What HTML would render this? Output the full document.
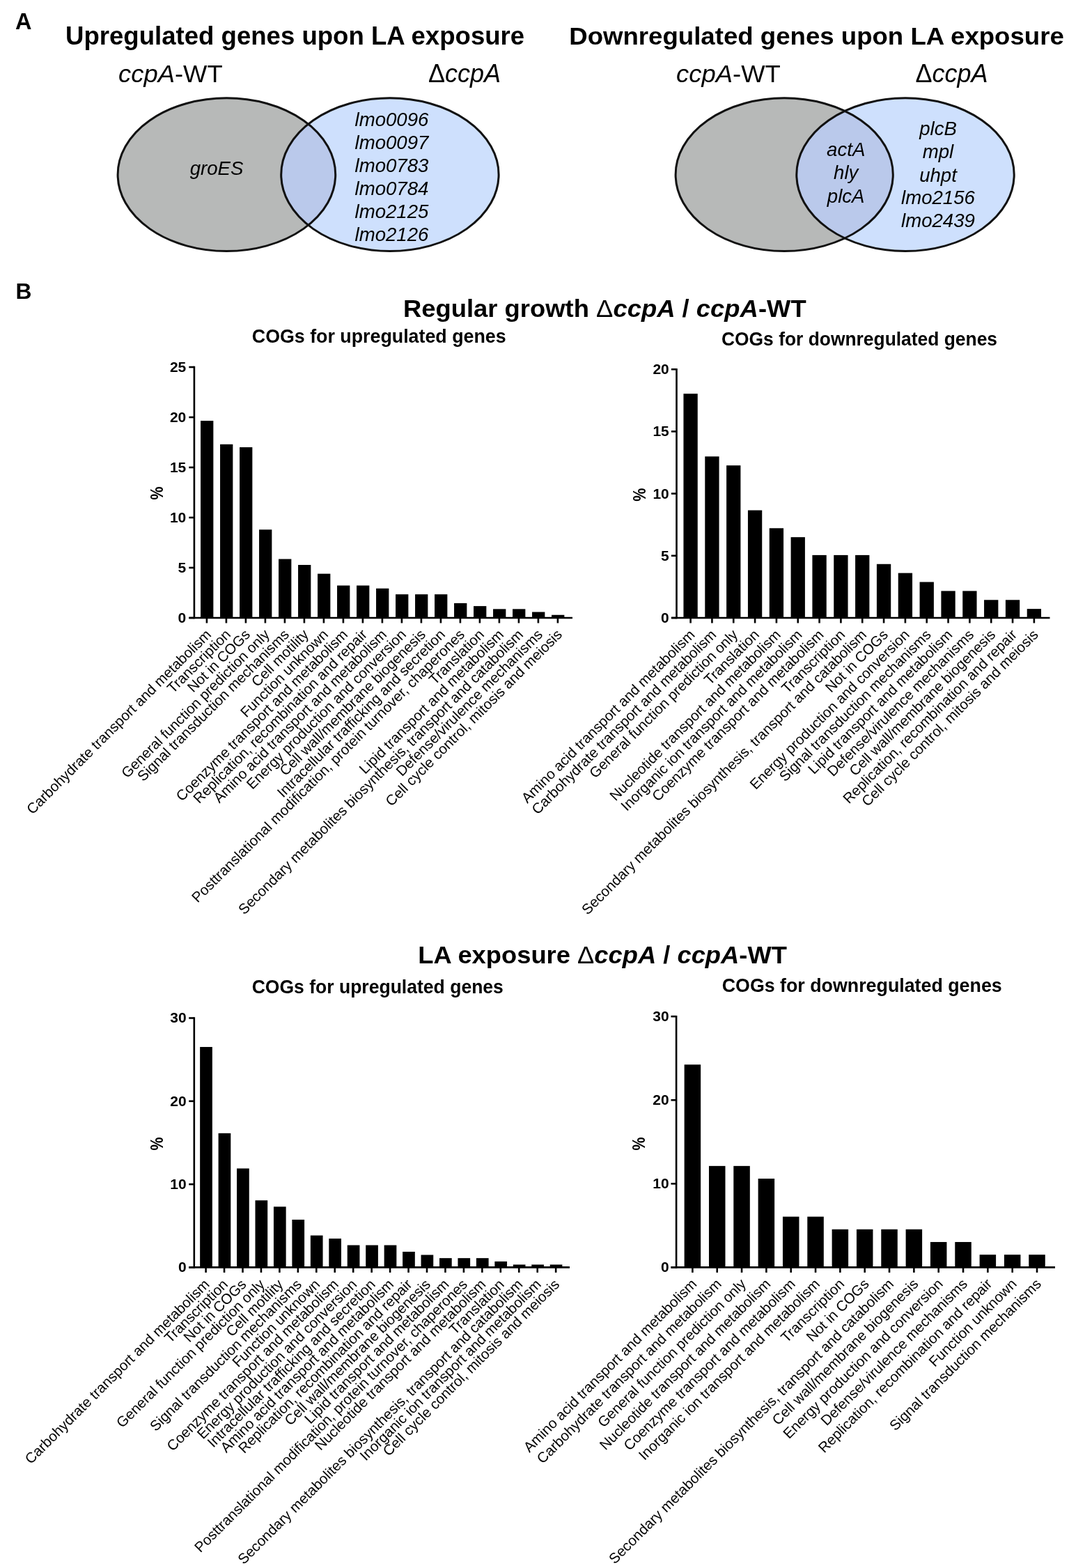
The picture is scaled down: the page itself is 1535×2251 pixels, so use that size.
<!DOCTYPE html>
<html lang="en">
<head>
<meta charset="utf-8">
<title>Figure: ccpA Venn diagrams and COG distributions</title>
<style>
html, body { margin: 0; padding: 0; background: #fff; }
body { width: 1535px; height: 2251px; overflow: hidden; }
svg { display: block; }
text { font-family: "Liberation Sans", Arial, Helvetica, sans-serif; }
</style>
</head>
<body>
<svg width="1535" height="2251" viewBox="0 0 1535 2251" font-family='"Liberation Sans", Arial, Helvetica, sans-serif' fill="#000">
<rect width="1535" height="2251" fill="#fff"/>
<text x="22.0" y="41.6" font-size="32.5" font-weight="bold" >A</text>
<text x="22.4" y="428.7" font-size="31.8" font-weight="bold" >B</text>
<text transform="translate(94.0,64.0) scale(1.0165,1)" font-size="36" font-weight="bold" >Upregulated genes upon LA exposure</text>
<text transform="translate(817.2,64.0) scale(1.0175,1)" font-size="36" font-weight="bold" >Downregulated genes upon LA exposure</text>
<text transform="translate(170.0,118.4) scale(1.012,1)" font-size="36"><tspan font-style="italic">ccpA</tspan>-WT</text>
<text x="615.0" y="118.4" font-size="36">Δ<tspan font-style="italic">ccpA</tspan></text>
<text transform="translate(971.1,118.4) scale(1.012,1)" font-size="36"><tspan font-style="italic">ccpA</tspan>-WT</text>
<text x="1314.5" y="118.4" font-size="36">Δ<tspan font-style="italic">ccpA</tspan></text>
<clipPath id="clipL1"><ellipse cx="325.4" cy="250.65" rx="156.3" ry="109.9"/></clipPath>
<ellipse cx="325.4" cy="250.65" rx="156.3" ry="109.9" fill="#b7b9b8" />
<ellipse cx="559.9" cy="250.65" rx="156.2" ry="109.9" fill="#cee0fd" />
<ellipse cx="559.9" cy="250.65" rx="156.2" ry="109.9" fill="#bac9eb" clip-path="url(#clipL1)"/>
<ellipse cx="325.4" cy="250.65" rx="156.3" ry="109.9" fill="none" stroke="#111" stroke-width="3.0"/>
<ellipse cx="559.9" cy="250.65" rx="156.2" ry="109.9" fill="none" stroke="#111" stroke-width="3.0"/>
<clipPath id="clipL2"><ellipse cx="1126.2" cy="250.65" rx="156.1" ry="109.9"/></clipPath>
<ellipse cx="1126.2" cy="250.65" rx="156.1" ry="109.9" fill="#b7b9b8" />
<ellipse cx="1300.0" cy="250.65" rx="156.2" ry="109.9" fill="#cee0fd" />
<ellipse cx="1300.0" cy="250.65" rx="156.2" ry="109.9" fill="#bac9eb" clip-path="url(#clipL2)"/>
<ellipse cx="1126.2" cy="250.65" rx="156.1" ry="109.9" fill="none" stroke="#111" stroke-width="3.0"/>
<ellipse cx="1300.0" cy="250.65" rx="156.2" ry="109.9" fill="none" stroke="#111" stroke-width="3.0"/>
<text x="311.0" y="251.1" font-size="27.6" font-style="italic" text-anchor="middle" >groES</text>
<text x="562.5" y="181.1" font-size="27.6" font-style="italic" text-anchor="middle" >lmo0096</text>
<text x="562.5" y="214.0" font-size="27.6" font-style="italic" text-anchor="middle" >lmo0097</text>
<text x="562.5" y="246.9" font-size="27.6" font-style="italic" text-anchor="middle" >lmo0783</text>
<text x="562.5" y="279.9" font-size="27.6" font-style="italic" text-anchor="middle" >lmo0784</text>
<text x="562.5" y="312.9" font-size="27.6" font-style="italic" text-anchor="middle" >lmo2125</text>
<text x="562.5" y="345.8" font-size="27.6" font-style="italic" text-anchor="middle" >lmo2126</text>
<text x="1214.7" y="224.3" font-size="27.6" font-style="italic" text-anchor="middle" >actA</text>
<text x="1214.7" y="257.4" font-size="27.6" font-style="italic" text-anchor="middle" >hly</text>
<text x="1214.7" y="290.5" font-size="27.6" font-style="italic" text-anchor="middle" >plcA</text>
<text x="1347.0" y="194.2" font-size="27.6" font-style="italic" text-anchor="middle" >plcB</text>
<text x="1347.0" y="227.4" font-size="27.6" font-style="italic" text-anchor="middle" >mpl</text>
<text x="1347.0" y="260.5" font-size="27.6" font-style="italic" text-anchor="middle" >uhpt</text>
<text x="1347.0" y="292.6" font-size="27.6" font-style="italic" text-anchor="middle" >lmo2156</text>
<text x="1347.0" y="325.5" font-size="27.6" font-style="italic" text-anchor="middle" >lmo2439</text>
<text transform="translate(578.9,454.5) scale(1.012,1)" font-size="36" font-weight="bold">Regular growth <tspan font-weight="normal">Δ</tspan><tspan font-style="italic">ccpA</tspan> / <tspan font-style="italic">ccpA</tspan>-WT</text>
<text transform="translate(600.2,1382.7) scale(1.0098,1)" font-size="36" font-weight="bold">LA exposure <tspan font-weight="normal">Δ</tspan><tspan font-style="italic">ccpA</tspan> / <tspan font-style="italic">ccpA</tspan>-WT</text>
<text x="544.2" y="491.9" font-size="26.8" font-weight="bold" text-anchor="middle" >COGs for upregulated genes</text>
<text transform="translate(1234.0,496.2) scale(0.9855,1)" font-size="26.8" font-weight="bold" text-anchor="middle" >COGs for downregulated genes</text>
<text transform="translate(542.25,1426.3) scale(0.991,1)" font-size="26.8" font-weight="bold" text-anchor="middle" >COGs for upregulated genes</text>
<text x="1237.7" y="1424.0" font-size="26.8" font-weight="bold" text-anchor="middle" >COGs for downregulated genes</text>
<rect x="288.05" y="604.07" width="18.30" height="282.93" fill="#000"/>
<rect x="316.05" y="637.85" width="18.30" height="249.15" fill="#000"/>
<rect x="344.05" y="642.07" width="18.30" height="244.93" fill="#000"/>
<rect x="372.05" y="760.31" width="18.30" height="126.69" fill="#000"/>
<rect x="400.05" y="802.54" width="18.30" height="84.46" fill="#000"/>
<rect x="428.05" y="810.99" width="18.30" height="76.01" fill="#000"/>
<rect x="456.05" y="823.66" width="18.30" height="63.34" fill="#000"/>
<rect x="484.05" y="840.55" width="18.30" height="46.45" fill="#000"/>
<rect x="512.05" y="840.55" width="18.30" height="46.45" fill="#000"/>
<rect x="540.05" y="844.77" width="18.30" height="42.23" fill="#000"/>
<rect x="568.05" y="853.22" width="18.30" height="33.78" fill="#000"/>
<rect x="596.05" y="853.22" width="18.30" height="33.78" fill="#000"/>
<rect x="624.05" y="853.22" width="18.30" height="33.78" fill="#000"/>
<rect x="652.05" y="865.89" width="18.30" height="21.11" fill="#000"/>
<rect x="680.05" y="870.11" width="18.30" height="16.89" fill="#000"/>
<rect x="708.05" y="874.33" width="18.30" height="12.67" fill="#000"/>
<rect x="736.05" y="874.33" width="18.30" height="12.67" fill="#000"/>
<rect x="764.05" y="878.55" width="18.30" height="8.45" fill="#000"/>
<rect x="792.05" y="882.78" width="18.30" height="4.22" fill="#000"/>
<line x1="278.9" y1="525.70" x2="278.9" y2="888.30" stroke="#000" stroke-width="2.6"/>
<line x1="271.30" y1="887.0" x2="822.00" y2="887.0" stroke="#000" stroke-width="2.6"/>
<line x1="271.30" y1="887.00" x2="278.9" y2="887.00" stroke="#000" stroke-width="2.6"/>
<text x="267.30" y="893.93" font-size="21" font-weight="bold" text-anchor="end" >0</text>
<line x1="271.30" y1="815.00" x2="278.9" y2="815.00" stroke="#000" stroke-width="2.6"/>
<text x="267.30" y="821.93" font-size="21" font-weight="bold" text-anchor="end" >5</text>
<line x1="271.30" y1="743.00" x2="278.9" y2="743.00" stroke="#000" stroke-width="2.6"/>
<text x="267.30" y="749.93" font-size="21" font-weight="bold" text-anchor="end" >10</text>
<line x1="271.30" y1="671.00" x2="278.9" y2="671.00" stroke="#000" stroke-width="2.6"/>
<text x="267.30" y="677.93" font-size="21" font-weight="bold" text-anchor="end" >15</text>
<line x1="271.30" y1="599.00" x2="278.9" y2="599.00" stroke="#000" stroke-width="2.6"/>
<text x="267.30" y="605.93" font-size="21" font-weight="bold" text-anchor="end" >20</text>
<line x1="271.30" y1="527.00" x2="278.9" y2="527.00" stroke="#000" stroke-width="2.6"/>
<text x="267.30" y="533.93" font-size="21" font-weight="bold" text-anchor="end" >25</text>
<line x1="296.90" y1="887.0" x2="296.90" y2="894.50" stroke="#000" stroke-width="2.6"/>
<text transform="translate(304.40,912.20) rotate(-45)" font-size="20.7" text-anchor="end">Carbohydrate transport and metabolism</text>
<line x1="324.90" y1="887.0" x2="324.90" y2="894.50" stroke="#000" stroke-width="2.6"/>
<text transform="translate(332.40,912.20) rotate(-45)" font-size="20.7" text-anchor="end">Transcription</text>
<line x1="352.90" y1="887.0" x2="352.90" y2="894.50" stroke="#000" stroke-width="2.6"/>
<text transform="translate(360.40,912.20) rotate(-45)" font-size="20.7" text-anchor="end">Not in COGs</text>
<line x1="380.90" y1="887.0" x2="380.90" y2="894.50" stroke="#000" stroke-width="2.6"/>
<text transform="translate(388.40,912.20) rotate(-45)" font-size="20.7" text-anchor="end">General function prediction only</text>
<line x1="408.90" y1="887.0" x2="408.90" y2="894.50" stroke="#000" stroke-width="2.6"/>
<text transform="translate(416.40,912.20) rotate(-45)" font-size="20.7" text-anchor="end">Signal transduction mechanisms</text>
<line x1="436.90" y1="887.0" x2="436.90" y2="894.50" stroke="#000" stroke-width="2.6"/>
<text transform="translate(444.40,912.20) rotate(-45)" font-size="20.7" text-anchor="end">Cell motility</text>
<line x1="464.90" y1="887.0" x2="464.90" y2="894.50" stroke="#000" stroke-width="2.6"/>
<text transform="translate(472.40,912.20) rotate(-45)" font-size="20.7" text-anchor="end">Function unknown</text>
<line x1="492.90" y1="887.0" x2="492.90" y2="894.50" stroke="#000" stroke-width="2.6"/>
<text transform="translate(500.40,912.20) rotate(-45)" font-size="20.7" text-anchor="end">Coenzyme transport and metabolism</text>
<line x1="520.90" y1="887.0" x2="520.90" y2="894.50" stroke="#000" stroke-width="2.6"/>
<text transform="translate(528.40,912.20) rotate(-45)" font-size="20.7" text-anchor="end">Replication, recombination and repair</text>
<line x1="548.90" y1="887.0" x2="548.90" y2="894.50" stroke="#000" stroke-width="2.6"/>
<text transform="translate(556.40,912.20) rotate(-45)" font-size="20.7" text-anchor="end">Amino acid transport and metabolism</text>
<line x1="576.90" y1="887.0" x2="576.90" y2="894.50" stroke="#000" stroke-width="2.6"/>
<text transform="translate(584.40,912.20) rotate(-45)" font-size="20.7" text-anchor="end">Energy production and conversion</text>
<line x1="604.90" y1="887.0" x2="604.90" y2="894.50" stroke="#000" stroke-width="2.6"/>
<text transform="translate(612.40,912.20) rotate(-45)" font-size="20.7" text-anchor="end">Cell wall/membrane biogenesis</text>
<line x1="632.90" y1="887.0" x2="632.90" y2="894.50" stroke="#000" stroke-width="2.6"/>
<text transform="translate(640.40,912.20) rotate(-45)" font-size="20.7" text-anchor="end">Intracellular trafficking and secretion</text>
<line x1="660.90" y1="887.0" x2="660.90" y2="894.50" stroke="#000" stroke-width="2.6"/>
<text transform="translate(668.40,912.20) rotate(-45)" font-size="20.7" text-anchor="end">Posttranslational modification, protein turnover, chaperones</text>
<line x1="688.90" y1="887.0" x2="688.90" y2="894.50" stroke="#000" stroke-width="2.6"/>
<text transform="translate(696.40,912.20) rotate(-45)" font-size="20.7" text-anchor="end">Translation</text>
<line x1="716.90" y1="887.0" x2="716.90" y2="894.50" stroke="#000" stroke-width="2.6"/>
<text transform="translate(724.40,912.20) rotate(-45)" font-size="20.7" text-anchor="end">Lipid transport and metabolism</text>
<line x1="744.90" y1="887.0" x2="744.90" y2="894.50" stroke="#000" stroke-width="2.6"/>
<text transform="translate(752.40,912.20) rotate(-45)" font-size="20.7" text-anchor="end">Secondary metabolites biosynthesis, transport and catabolism</text>
<line x1="772.90" y1="887.0" x2="772.90" y2="894.50" stroke="#000" stroke-width="2.6"/>
<text transform="translate(780.40,912.20) rotate(-45)" font-size="20.7" text-anchor="end">Defense/virulence mechanisms</text>
<line x1="800.90" y1="887.0" x2="800.90" y2="894.50" stroke="#000" stroke-width="2.6"/>
<text transform="translate(808.40,912.20) rotate(-45)" font-size="20.7" text-anchor="end">Cell cycle control, mitosis and meiosis</text>
<text transform="translate(233.5,708.0) rotate(-90) scale(0.97,1.18)" font-size="22" font-weight="bold" text-anchor="middle">%</text>
<rect x="981.45" y="565.21" width="20.30" height="321.79" fill="#000"/>
<rect x="1012.28" y="655.31" width="20.30" height="231.69" fill="#000"/>
<rect x="1043.11" y="668.18" width="20.30" height="218.82" fill="#000"/>
<rect x="1073.94" y="732.54" width="20.30" height="154.46" fill="#000"/>
<rect x="1104.77" y="758.28" width="20.30" height="128.72" fill="#000"/>
<rect x="1135.60" y="771.16" width="20.30" height="115.84" fill="#000"/>
<rect x="1166.43" y="796.90" width="20.30" height="90.10" fill="#000"/>
<rect x="1197.26" y="796.90" width="20.30" height="90.10" fill="#000"/>
<rect x="1228.09" y="796.90" width="20.30" height="90.10" fill="#000"/>
<rect x="1258.92" y="809.77" width="20.30" height="77.23" fill="#000"/>
<rect x="1289.75" y="822.64" width="20.30" height="64.36" fill="#000"/>
<rect x="1320.58" y="835.51" width="20.30" height="51.49" fill="#000"/>
<rect x="1351.41" y="848.39" width="20.30" height="38.61" fill="#000"/>
<rect x="1382.24" y="848.39" width="20.30" height="38.61" fill="#000"/>
<rect x="1413.07" y="861.26" width="20.30" height="25.74" fill="#000"/>
<rect x="1443.90" y="861.26" width="20.30" height="25.74" fill="#000"/>
<rect x="1474.73" y="874.13" width="20.30" height="12.87" fill="#000"/>
<line x1="971.5" y1="528.90" x2="971.5" y2="888.30" stroke="#000" stroke-width="2.6"/>
<line x1="963.90" y1="887.0" x2="1507.50" y2="887.0" stroke="#000" stroke-width="2.6"/>
<line x1="963.90" y1="887.00" x2="971.5" y2="887.00" stroke="#000" stroke-width="2.6"/>
<text x="960.80" y="893.93" font-size="21" font-weight="bold" text-anchor="end" >0</text>
<line x1="963.90" y1="797.80" x2="971.5" y2="797.80" stroke="#000" stroke-width="2.6"/>
<text x="960.80" y="804.73" font-size="21" font-weight="bold" text-anchor="end" >5</text>
<line x1="963.90" y1="708.60" x2="971.5" y2="708.60" stroke="#000" stroke-width="2.6"/>
<text x="960.80" y="715.53" font-size="21" font-weight="bold" text-anchor="end" >10</text>
<line x1="963.90" y1="619.40" x2="971.5" y2="619.40" stroke="#000" stroke-width="2.6"/>
<text x="960.80" y="626.33" font-size="21" font-weight="bold" text-anchor="end" >15</text>
<line x1="963.90" y1="530.20" x2="971.5" y2="530.20" stroke="#000" stroke-width="2.6"/>
<text x="960.80" y="537.13" font-size="21" font-weight="bold" text-anchor="end" >20</text>
<line x1="991.60" y1="887.0" x2="991.60" y2="894.50" stroke="#000" stroke-width="2.6"/>
<text transform="translate(998.85,912.45) rotate(-45)" font-size="20.7" text-anchor="end">Amino acid transport and metabolism</text>
<line x1="1022.43" y1="887.0" x2="1022.43" y2="894.50" stroke="#000" stroke-width="2.6"/>
<text transform="translate(1029.68,912.45) rotate(-45)" font-size="20.7" text-anchor="end">Carbohydrate transport and metabolism</text>
<line x1="1053.26" y1="887.0" x2="1053.26" y2="894.50" stroke="#000" stroke-width="2.6"/>
<text transform="translate(1060.51,912.45) rotate(-45)" font-size="20.7" text-anchor="end">General function prediction only</text>
<line x1="1084.09" y1="887.0" x2="1084.09" y2="894.50" stroke="#000" stroke-width="2.6"/>
<text transform="translate(1091.34,912.45) rotate(-45)" font-size="20.7" text-anchor="end">Translation</text>
<line x1="1114.92" y1="887.0" x2="1114.92" y2="894.50" stroke="#000" stroke-width="2.6"/>
<text transform="translate(1122.17,912.45) rotate(-45)" font-size="20.7" text-anchor="end">Nucleotide transport and metabolism</text>
<line x1="1145.75" y1="887.0" x2="1145.75" y2="894.50" stroke="#000" stroke-width="2.6"/>
<text transform="translate(1153.00,912.45) rotate(-45)" font-size="20.7" text-anchor="end">Inorganic ion transport and metabolism</text>
<line x1="1176.58" y1="887.0" x2="1176.58" y2="894.50" stroke="#000" stroke-width="2.6"/>
<text transform="translate(1183.83,912.45) rotate(-45)" font-size="20.7" text-anchor="end">Coenzyme transport and metabolism</text>
<line x1="1207.41" y1="887.0" x2="1207.41" y2="894.50" stroke="#000" stroke-width="2.6"/>
<text transform="translate(1214.66,912.45) rotate(-45)" font-size="20.7" text-anchor="end">Transcription</text>
<line x1="1238.24" y1="887.0" x2="1238.24" y2="894.50" stroke="#000" stroke-width="2.6"/>
<text transform="translate(1245.49,912.45) rotate(-45)" font-size="20.7" text-anchor="end">Secondary metabolites biosynthesis, transport and catabolism</text>
<line x1="1269.07" y1="887.0" x2="1269.07" y2="894.50" stroke="#000" stroke-width="2.6"/>
<text transform="translate(1276.32,912.45) rotate(-45)" font-size="20.7" text-anchor="end">Not in COGs</text>
<line x1="1299.90" y1="887.0" x2="1299.90" y2="894.50" stroke="#000" stroke-width="2.6"/>
<text transform="translate(1307.15,912.45) rotate(-45)" font-size="20.7" text-anchor="end">Energy production and conversion</text>
<line x1="1330.73" y1="887.0" x2="1330.73" y2="894.50" stroke="#000" stroke-width="2.6"/>
<text transform="translate(1337.98,912.45) rotate(-45)" font-size="20.7" text-anchor="end">Signal transduction mechanisms</text>
<line x1="1361.56" y1="887.0" x2="1361.56" y2="894.50" stroke="#000" stroke-width="2.6"/>
<text transform="translate(1368.81,912.45) rotate(-45)" font-size="20.7" text-anchor="end">Lipid transport and metabolism</text>
<line x1="1392.39" y1="887.0" x2="1392.39" y2="894.50" stroke="#000" stroke-width="2.6"/>
<text transform="translate(1399.64,912.45) rotate(-45)" font-size="20.7" text-anchor="end">Defense/virulence mechanisms</text>
<line x1="1423.22" y1="887.0" x2="1423.22" y2="894.50" stroke="#000" stroke-width="2.6"/>
<text transform="translate(1430.47,912.45) rotate(-45)" font-size="20.7" text-anchor="end">Cell wall/membrane biogenesis</text>
<line x1="1454.05" y1="887.0" x2="1454.05" y2="894.50" stroke="#000" stroke-width="2.6"/>
<text transform="translate(1461.30,912.45) rotate(-45)" font-size="20.7" text-anchor="end">Replication, recombination and repair</text>
<line x1="1484.88" y1="887.0" x2="1484.88" y2="894.50" stroke="#000" stroke-width="2.6"/>
<text transform="translate(1492.13,912.45) rotate(-45)" font-size="20.7" text-anchor="end">Cell cycle control, mitosis and meiosis</text>
<text transform="translate(927.0,710.2) rotate(-90) scale(0.97,1.18)" font-size="22" font-weight="bold" text-anchor="middle">%</text>
<rect x="287.15" y="1503.02" width="17.70" height="316.38" fill="#000"/>
<rect x="313.60" y="1626.85" width="17.70" height="192.55" fill="#000"/>
<rect x="340.05" y="1677.43" width="17.70" height="141.97" fill="#000"/>
<rect x="366.50" y="1723.24" width="17.70" height="96.16" fill="#000"/>
<rect x="392.95" y="1732.31" width="17.70" height="87.09" fill="#000"/>
<rect x="419.40" y="1750.92" width="17.70" height="68.48" fill="#000"/>
<rect x="445.85" y="1773.59" width="17.70" height="45.81" fill="#000"/>
<rect x="472.30" y="1778.12" width="17.70" height="41.28" fill="#000"/>
<rect x="498.75" y="1787.55" width="17.70" height="31.85" fill="#000"/>
<rect x="525.20" y="1787.55" width="17.70" height="31.85" fill="#000"/>
<rect x="551.65" y="1787.55" width="17.70" height="31.85" fill="#000"/>
<rect x="578.10" y="1796.97" width="17.70" height="22.43" fill="#000"/>
<rect x="604.55" y="1801.51" width="17.70" height="17.89" fill="#000"/>
<rect x="631.00" y="1806.16" width="17.70" height="13.24" fill="#000"/>
<rect x="657.45" y="1806.16" width="17.70" height="13.24" fill="#000"/>
<rect x="683.90" y="1806.16" width="17.70" height="13.24" fill="#000"/>
<rect x="710.35" y="1810.93" width="17.70" height="8.47" fill="#000"/>
<rect x="736.80" y="1815.46" width="17.70" height="3.94" fill="#000"/>
<rect x="763.25" y="1815.46" width="17.70" height="3.94" fill="#000"/>
<rect x="789.70" y="1815.46" width="17.70" height="3.94" fill="#000"/>
<line x1="278.8" y1="1460.20" x2="278.8" y2="1820.70" stroke="#000" stroke-width="2.6"/>
<line x1="271.20" y1="1819.4" x2="818.00" y2="1819.4" stroke="#000" stroke-width="2.6"/>
<line x1="271.20" y1="1819.40" x2="278.8" y2="1819.40" stroke="#000" stroke-width="2.6"/>
<text x="267.60" y="1826.33" font-size="21" font-weight="bold" text-anchor="end" >0</text>
<line x1="271.20" y1="1700.10" x2="278.8" y2="1700.10" stroke="#000" stroke-width="2.6"/>
<text x="267.60" y="1707.03" font-size="21" font-weight="bold" text-anchor="end" >10</text>
<line x1="271.20" y1="1580.80" x2="278.8" y2="1580.80" stroke="#000" stroke-width="2.6"/>
<text x="267.60" y="1587.73" font-size="21" font-weight="bold" text-anchor="end" >20</text>
<line x1="271.20" y1="1461.50" x2="278.8" y2="1461.50" stroke="#000" stroke-width="2.6"/>
<text x="267.60" y="1468.43" font-size="21" font-weight="bold" text-anchor="end" >30</text>
<line x1="295.60" y1="1819.4" x2="295.60" y2="1826.90" stroke="#000" stroke-width="2.6"/>
<text transform="translate(302.00,1845.10) rotate(-45)" font-size="20.7" text-anchor="end">Carbohydrate transport and metabolism</text>
<line x1="322.05" y1="1819.4" x2="322.05" y2="1826.90" stroke="#000" stroke-width="2.6"/>
<text transform="translate(328.45,1845.10) rotate(-45)" font-size="20.7" text-anchor="end">Transcription</text>
<line x1="348.50" y1="1819.4" x2="348.50" y2="1826.90" stroke="#000" stroke-width="2.6"/>
<text transform="translate(354.90,1845.10) rotate(-45)" font-size="20.7" text-anchor="end">Not in COGs</text>
<line x1="374.95" y1="1819.4" x2="374.95" y2="1826.90" stroke="#000" stroke-width="2.6"/>
<text transform="translate(381.35,1845.10) rotate(-45)" font-size="20.7" text-anchor="end">General function prediction only</text>
<line x1="401.40" y1="1819.4" x2="401.40" y2="1826.90" stroke="#000" stroke-width="2.6"/>
<text transform="translate(407.80,1845.10) rotate(-45)" font-size="20.7" text-anchor="end">Cell motility</text>
<line x1="427.85" y1="1819.4" x2="427.85" y2="1826.90" stroke="#000" stroke-width="2.6"/>
<text transform="translate(434.25,1845.10) rotate(-45)" font-size="20.7" text-anchor="end">Signal transduction mechanisms</text>
<line x1="454.30" y1="1819.4" x2="454.30" y2="1826.90" stroke="#000" stroke-width="2.6"/>
<text transform="translate(460.70,1845.10) rotate(-45)" font-size="20.7" text-anchor="end">Function unknown</text>
<line x1="480.75" y1="1819.4" x2="480.75" y2="1826.90" stroke="#000" stroke-width="2.6"/>
<text transform="translate(487.15,1845.10) rotate(-45)" font-size="20.7" text-anchor="end">Coenzyme transport and metabolism</text>
<line x1="507.20" y1="1819.4" x2="507.20" y2="1826.90" stroke="#000" stroke-width="2.6"/>
<text transform="translate(513.60,1845.10) rotate(-45)" font-size="20.7" text-anchor="end">Energy production and conversion</text>
<line x1="533.65" y1="1819.4" x2="533.65" y2="1826.90" stroke="#000" stroke-width="2.6"/>
<text transform="translate(540.05,1845.10) rotate(-45)" font-size="20.7" text-anchor="end">Intracellular trafficking and secretion</text>
<line x1="560.10" y1="1819.4" x2="560.10" y2="1826.90" stroke="#000" stroke-width="2.6"/>
<text transform="translate(566.50,1845.10) rotate(-45)" font-size="20.7" text-anchor="end">Amino acid transport and metabolism</text>
<line x1="586.55" y1="1819.4" x2="586.55" y2="1826.90" stroke="#000" stroke-width="2.6"/>
<text transform="translate(592.95,1845.10) rotate(-45)" font-size="20.7" text-anchor="end">Replication, recombination and repair</text>
<line x1="613.00" y1="1819.4" x2="613.00" y2="1826.90" stroke="#000" stroke-width="2.6"/>
<text transform="translate(619.40,1845.10) rotate(-45)" font-size="20.7" text-anchor="end">Cell wall/membrane biogenesis</text>
<line x1="639.45" y1="1819.4" x2="639.45" y2="1826.90" stroke="#000" stroke-width="2.6"/>
<text transform="translate(645.85,1845.10) rotate(-45)" font-size="20.7" text-anchor="end">Lipid transport and metabolism</text>
<line x1="665.90" y1="1819.4" x2="665.90" y2="1826.90" stroke="#000" stroke-width="2.6"/>
<text transform="translate(672.30,1845.10) rotate(-45)" font-size="20.7" text-anchor="end">Posttranslational modification, protein turnover, chaperones</text>
<line x1="692.35" y1="1819.4" x2="692.35" y2="1826.90" stroke="#000" stroke-width="2.6"/>
<text transform="translate(698.75,1845.10) rotate(-45)" font-size="20.7" text-anchor="end">Nucleotide transport and metabolism</text>
<line x1="718.80" y1="1819.4" x2="718.80" y2="1826.90" stroke="#000" stroke-width="2.6"/>
<text transform="translate(725.20,1845.10) rotate(-45)" font-size="20.7" text-anchor="end">Translation</text>
<line x1="745.25" y1="1819.4" x2="745.25" y2="1826.90" stroke="#000" stroke-width="2.6"/>
<text transform="translate(751.65,1845.10) rotate(-45)" font-size="20.7" text-anchor="end">Secondary metabolites biosynthesis, transport and catabolism</text>
<line x1="771.70" y1="1819.4" x2="771.70" y2="1826.90" stroke="#000" stroke-width="2.6"/>
<text transform="translate(778.10,1845.10) rotate(-45)" font-size="20.7" text-anchor="end">Inorganic ion transport and metabolism</text>
<line x1="798.15" y1="1819.4" x2="798.15" y2="1826.90" stroke="#000" stroke-width="2.6"/>
<text transform="translate(804.55,1845.10) rotate(-45)" font-size="20.7" text-anchor="end">Cell cycle control, mitosis and meiosis</text>
<text transform="translate(233.5,1642.0) rotate(-90) scale(0.97,1.18)" font-size="22" font-weight="bold" text-anchor="middle">%</text>
<rect x="982.65" y="1528.32" width="23.50" height="291.08" fill="#000"/>
<rect x="1017.98" y="1673.86" width="23.50" height="145.54" fill="#000"/>
<rect x="1053.31" y="1673.86" width="23.50" height="145.54" fill="#000"/>
<rect x="1088.64" y="1692.05" width="23.50" height="127.35" fill="#000"/>
<rect x="1123.97" y="1746.63" width="23.50" height="72.77" fill="#000"/>
<rect x="1159.30" y="1746.63" width="23.50" height="72.77" fill="#000"/>
<rect x="1194.63" y="1764.82" width="23.50" height="54.58" fill="#000"/>
<rect x="1229.96" y="1764.82" width="23.50" height="54.58" fill="#000"/>
<rect x="1265.29" y="1764.82" width="23.50" height="54.58" fill="#000"/>
<rect x="1300.62" y="1764.82" width="23.50" height="54.58" fill="#000"/>
<rect x="1335.95" y="1783.02" width="23.50" height="36.38" fill="#000"/>
<rect x="1371.28" y="1783.02" width="23.50" height="36.38" fill="#000"/>
<rect x="1406.61" y="1801.21" width="23.50" height="18.19" fill="#000"/>
<rect x="1441.94" y="1801.21" width="23.50" height="18.19" fill="#000"/>
<rect x="1477.27" y="1801.21" width="23.50" height="18.19" fill="#000"/>
<line x1="971.1" y1="1457.89" x2="971.1" y2="1820.70" stroke="#000" stroke-width="2.6"/>
<line x1="963.50" y1="1819.4" x2="1515.00" y2="1819.4" stroke="#000" stroke-width="2.6"/>
<line x1="963.50" y1="1819.40" x2="971.1" y2="1819.40" stroke="#000" stroke-width="2.6"/>
<text x="960.60" y="1826.33" font-size="21" font-weight="bold" text-anchor="end" >0</text>
<line x1="963.50" y1="1699.33" x2="971.1" y2="1699.33" stroke="#000" stroke-width="2.6"/>
<text x="960.60" y="1706.26" font-size="21" font-weight="bold" text-anchor="end" >10</text>
<line x1="963.50" y1="1579.26" x2="971.1" y2="1579.26" stroke="#000" stroke-width="2.6"/>
<text x="960.60" y="1586.19" font-size="21" font-weight="bold" text-anchor="end" >20</text>
<line x1="963.50" y1="1459.19" x2="971.1" y2="1459.19" stroke="#000" stroke-width="2.6"/>
<text x="960.60" y="1466.12" font-size="21" font-weight="bold" text-anchor="end" >30</text>
<line x1="994.40" y1="1819.4" x2="994.40" y2="1826.90" stroke="#000" stroke-width="2.6"/>
<text transform="translate(1001.75,1844.45) rotate(-45)" font-size="20.7" text-anchor="end">Amino acid transport and metabolism</text>
<line x1="1029.73" y1="1819.4" x2="1029.73" y2="1826.90" stroke="#000" stroke-width="2.6"/>
<text transform="translate(1037.08,1844.45) rotate(-45)" font-size="20.7" text-anchor="end">Carbohydrate transport and metabolism</text>
<line x1="1065.06" y1="1819.4" x2="1065.06" y2="1826.90" stroke="#000" stroke-width="2.6"/>
<text transform="translate(1072.41,1844.45) rotate(-45)" font-size="20.7" text-anchor="end">General function prediction only</text>
<line x1="1100.39" y1="1819.4" x2="1100.39" y2="1826.90" stroke="#000" stroke-width="2.6"/>
<text transform="translate(1107.74,1844.45) rotate(-45)" font-size="20.7" text-anchor="end">Nucleotide transport and metabolism</text>
<line x1="1135.72" y1="1819.4" x2="1135.72" y2="1826.90" stroke="#000" stroke-width="2.6"/>
<text transform="translate(1143.07,1844.45) rotate(-45)" font-size="20.7" text-anchor="end">Coenzyme transport and metabolism</text>
<line x1="1171.05" y1="1819.4" x2="1171.05" y2="1826.90" stroke="#000" stroke-width="2.6"/>
<text transform="translate(1178.40,1844.45) rotate(-45)" font-size="20.7" text-anchor="end">Inorganic ion transport and metabolism</text>
<line x1="1206.38" y1="1819.4" x2="1206.38" y2="1826.90" stroke="#000" stroke-width="2.6"/>
<text transform="translate(1213.73,1844.45) rotate(-45)" font-size="20.7" text-anchor="end">Transcription</text>
<line x1="1241.71" y1="1819.4" x2="1241.71" y2="1826.90" stroke="#000" stroke-width="2.6"/>
<text transform="translate(1249.06,1844.45) rotate(-45)" font-size="20.7" text-anchor="end">Not in COGs</text>
<line x1="1277.04" y1="1819.4" x2="1277.04" y2="1826.90" stroke="#000" stroke-width="2.6"/>
<text transform="translate(1284.39,1844.45) rotate(-45)" font-size="20.7" text-anchor="end">Secondary metabolites biosynthesis, transport and catabolism</text>
<line x1="1312.37" y1="1819.4" x2="1312.37" y2="1826.90" stroke="#000" stroke-width="2.6"/>
<text transform="translate(1319.72,1844.45) rotate(-45)" font-size="20.7" text-anchor="end">Cell wall/membrane biogenesis</text>
<line x1="1347.70" y1="1819.4" x2="1347.70" y2="1826.90" stroke="#000" stroke-width="2.6"/>
<text transform="translate(1355.05,1844.45) rotate(-45)" font-size="20.7" text-anchor="end">Energy production and conversion</text>
<line x1="1383.03" y1="1819.4" x2="1383.03" y2="1826.90" stroke="#000" stroke-width="2.6"/>
<text transform="translate(1390.38,1844.45) rotate(-45)" font-size="20.7" text-anchor="end">Defense/virulence mechanisms</text>
<line x1="1418.36" y1="1819.4" x2="1418.36" y2="1826.90" stroke="#000" stroke-width="2.6"/>
<text transform="translate(1425.71,1844.45) rotate(-45)" font-size="20.7" text-anchor="end">Replication, recombination and repair</text>
<line x1="1453.69" y1="1819.4" x2="1453.69" y2="1826.90" stroke="#000" stroke-width="2.6"/>
<text transform="translate(1461.04,1844.45) rotate(-45)" font-size="20.7" text-anchor="end">Function unknown</text>
<line x1="1489.02" y1="1819.4" x2="1489.02" y2="1826.90" stroke="#000" stroke-width="2.6"/>
<text transform="translate(1496.37,1844.45) rotate(-45)" font-size="20.7" text-anchor="end">Signal transduction mechanisms</text>
<text transform="translate(926.0,1642.0) rotate(-90) scale(0.97,1.18)" font-size="22" font-weight="bold" text-anchor="middle">%</text>
</svg>
</body>
</html>
